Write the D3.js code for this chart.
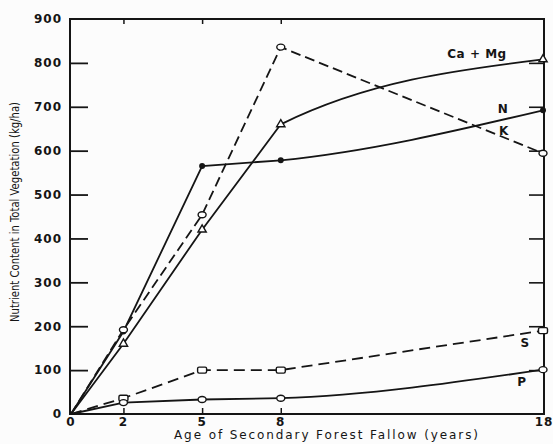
<!DOCTYPE html>
<html>
<head>
<meta charset="utf-8">
<script src="https://cdn.jsdelivr.net/npm/d3@7"></script>
<style>
  body { margin: 0; background: #fff; }
  svg { display: block; }
</style>
</head>
<body>
<div id="chart"></div>
<script>
// fallow age (years) and nutrient content (kg/ha)
const years = [0, 2, 5, 8, 18]
const caMg = [0, 160, 420, 660, 808]
const nitrogen = [0, 188, 565, 578, 692]
const potassium = [0, 192, 454, 836, 594]
const sulphur = [0, 36, 100, 100, 190]
const phosphorus = [0, 26, 33, 36, 101]

const yTicks = [0, 100, 200, 300, 400, 500, 600, 700, 800, 900]
const xTicks = [0, 2, 5, 8, 18]

const width = 553, height = 444

const x = d3.scaleLinear().domain([0, 18]).range([71, 543])
const y = d3.scaleLinear().domain([0, 900]).range([414, 19])

const svg = d3.select("#chart").append("svg")
    .attr("width", width)
    .attr("height", height)

svg.append("rect").attr("width", width).attr("height", height).attr("fill", "#fcfcfc")

const ink = "#151515"

// clip so the smooth tails only show after year 8
svg.append("clipPath").attr("id", "tail")
    .append("rect")
    .attr("x", x(8)).attr("y", 0)
    .attr("width", width - x(8)).attr("height", height)

// frame
svg.append("path")
    .attr("d", `M${x(0) - 1},${y(900)} H${x(18) + 1} V${y(0)} H${x(0) - 1} Z`)
    .attr("stroke", ink).attr("stroke-width", 2).attr("fill", "none")

// left ticks (inside)
svg.append("g")
    .attr("transform", `translate(${x(0) - 1},0)`)
    .call(d3.axisRight(y).tickValues(yTicks.slice(1, -1)).tickSize(18).tickFormat(""))
    .call(g => g.select(".domain").remove())
    .call(g => g.selectAll("line").attr("stroke", ink).attr("stroke-width", 1.8))

// right ticks (inside)
svg.append("g")
    .attr("transform", `translate(${x(18) + 1},0)`)
    .call(d3.axisLeft(y).tickValues(yTicks.slice(1, -1)).tickSize(15).tickFormat(""))
    .call(g => g.select(".domain").remove())
    .call(g => g.selectAll("line").attr("stroke", ink).attr("stroke-width", 1.6))

// small ticks top and bottom
svg.append("g")
    .attr("transform", `translate(0,${y(900)})`)
    .call(d3.axisBottom(x).tickValues([2, 5, 8]).tickSize(5).tickFormat(""))
    .call(g => g.select(".domain").remove())
    .call(g => g.selectAll("line").attr("stroke", ink).attr("stroke-width", 1.5))
svg.append("g")
    .attr("transform", `translate(0,${y(0)})`)
    .call(d3.axisTop(x).tickValues([2, 5, 8]).tickSize(6).tickFormat(""))
    .call(g => g.select(".domain").remove())
    .call(g => g.selectAll("line").attr("stroke", ink).attr("stroke-width", 1.5))

// tick labels
svg.append("g")
    .selectAll("text")
    .data(yTicks)
    .join("text")
    .attr("x", 62)
    .attr("y", d => y(d))
    .attr("dy", "0.36em")
    .attr("text-anchor", "end")
    .style("font", "bold 12px 'DejaVu Sans'")
    .style("letter-spacing", "1px")
    .attr("fill", ink)
    .text(d => d)

svg.append("g")
    .selectAll("text")
    .data(xTicks)
    .join("text")
    .attr("x", d => x(d) + (d == 18 ? 1 : 0))
    .attr("y", 426)
    .attr("text-anchor", "middle")
    .style("font", "bold 12px 'DejaVu Sans'")
    .style("letter-spacing", "1px")
    .attr("fill", ink)
    .text(d => d)

// axis titles
svg.append("text")
    .attr("x", 326)
    .attr("y", 439)
    .attr("text-anchor", "middle")
    .attr("textLength", 304)
    .attr("lengthAdjust", "spacing")
    .style("font", "12px 'DejaVu Sans'")
    .attr("fill", ink)
    .text("Age of Secondary Forest Fallow (years)")

svg.append("text")
    .attr("transform", "translate(19,212) rotate(-90)")
    .attr("text-anchor", "middle")
    .attr("textLength", 220)
    .attr("lengthAdjust", "spacingAndGlyphs")
    .style("font-family", "'DejaVu Sans Condensed', 'Liberation Sans', sans-serif")
    .style("font-stretch", "condensed")
    .style("font-size", "12px")
    .attr("fill", ink)
    .text("Nutrient Content in Total Vegetation (kg/ha)")

// series: values, dash, marker, whether the tail after year 8 is curved
const series = [
    {name: "Ca + Mg", values: caMg, dash: null, marker: "triangle", curved: true},
    {name: "N", values: nitrogen, dash: null, marker: "dot", curved: true},
    {name: "K", values: potassium, dash: "10,5", marker: "circle", curved: false},
    {name: "S", values: sulphur, dash: "11,6", marker: "square", curved: false},
    {name: "P", values: phosphorus, dash: null, marker: "circle", curved: true}
]

const straight = d3.line().x(d => x(d[0])).y(d => y(d[1]))
const smooth = d3.line().x(d => x(d[0])).y(d => y(d[1])).curve(d3.curveMonotoneX)

const lines = svg.append("g").attr("fill", "none").attr("stroke", ink).attr("stroke-width", 1.8)

series.forEach(s => {
    const pts = years.map((yr, i) => [yr, s.values[i]])
    if (s.curved) {
        lines.append("path").attr("d", straight(pts.slice(0, 4)))
        lines.append("path")
            .attr("d", smooth(pts.slice(2)))
            .attr("clip-path", "url(#tail)")
    } else {
        lines.append("path")
            .attr("d", straight(pts))
            .attr("stroke-dasharray", s.dash)
    }
})

// markers
const markers = svg.append("g")
series.forEach(s => {
    years.forEach((yr, i) => {
        if (i == 0) return
        const cx = x(yr), cy = y(s.values[i])
        if (s.marker == "dot") {
            markers.append("circle").attr("cx", cx).attr("cy", cy).attr("r", 3)
                .attr("fill", ink)
        } else if (s.marker == "circle") {
            markers.append("ellipse").attr("cx", cx).attr("cy", cy).attr("rx", 4).attr("ry", 3)
                .attr("fill", "#fff").attr("stroke", ink).attr("stroke-width", 1.4)
        } else if (s.marker == "square") {
            markers.append("rect").attr("x", cx - 4.5).attr("y", cy - 3).attr("width", 9).attr("height", 6)
                .attr("rx", 1.5)
                .attr("fill", "#fff").attr("stroke", ink).attr("stroke-width", 1.4)
        } else {
            markers.append("path")
                .attr("transform", `translate(${cx},${cy})`)
                .attr("d", d3.symbol(d3.symbolTriangle, 30)())
                .attr("fill", "#fff").attr("stroke", ink).attr("stroke-width", 1.4)
        }
    })
})

// series labels
const labelPos = {"Ca + Mg": [477, 58], "N": [503, 113], "K": [504, 135], "S": [525, 347], "P": [522, 386]}
svg.append("g")
    .selectAll("text")
    .data(series)
    .join("text")
    .attr("x", d => labelPos[d.name][0])
    .attr("y", d => labelPos[d.name][1])
    .attr("text-anchor", "middle")
    .style("font", "bold 12px 'DejaVu Sans'")
    .style("letter-spacing", "0.5px")
    .attr("fill", ink)
    .text(d => d.name)
</script>
</body>
</html>
